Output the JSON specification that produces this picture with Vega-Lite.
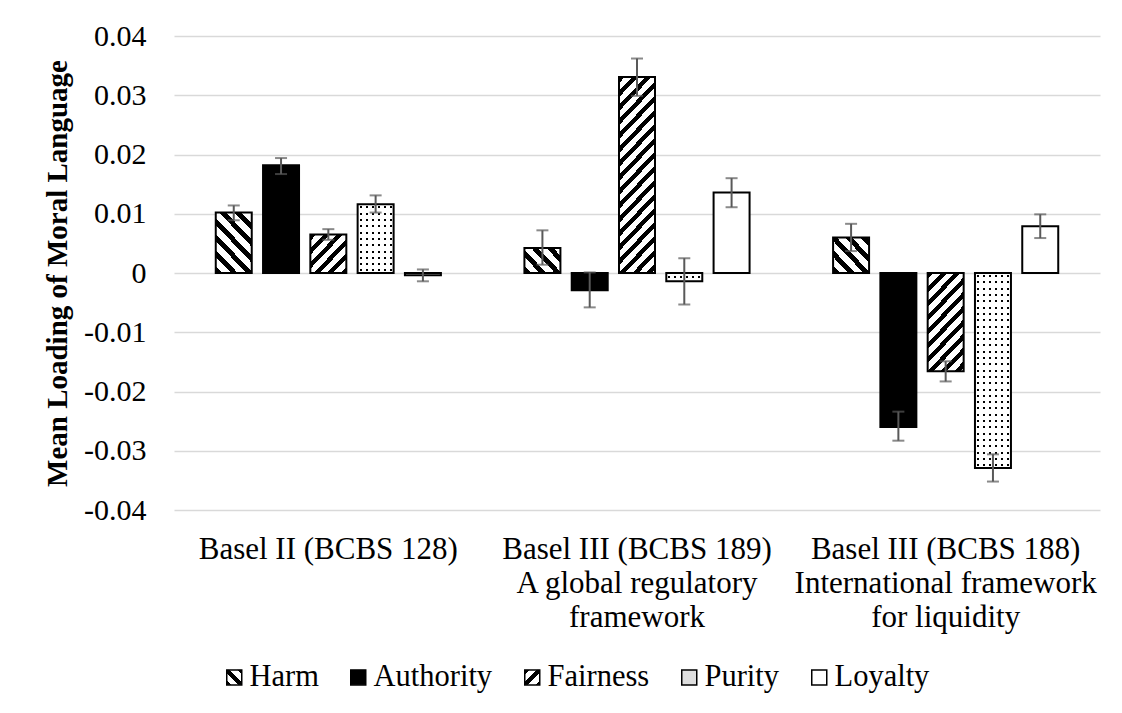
{
  "$schema": "https://vega.github.io/schema/vega-lite/v6.json",
  "width": 926,
  "height": 474,
  "autosize": {"type": "none"},
  "padding": {"left": 174, "top": 36, "right": 22, "bottom": 203},
  "background": "#ffffff",
  "config": {"view": {"stroke": null}, "font": "Liberation Serif"},
  "data": {"values": [
    {"group": "Basel II (BCBS 128)", "moral": "Harm", "value": 0.0102, "lo": 0.0089, "hi": 0.0114},
    {"group": "Basel II (BCBS 128)", "moral": "Authority", "value": 0.0182, "lo": 0.0167, "hi": 0.0194},
    {"group": "Basel II (BCBS 128)", "moral": "Fairness", "value": 0.0065, "lo": 0.0056, "hi": 0.0074},
    {"group": "Basel II (BCBS 128)", "moral": "Purity", "value": 0.0116, "lo": 0.0102, "hi": 0.0131},
    {"group": "Basel II (BCBS 128)", "moral": "Loyalty", "value": -0.0004, "lo": -0.0014, "hi": 0.0006},
    {"group": "Basel III (BCBS 189)|A global regulatory|framework", "moral": "Harm", "value": 0.0042, "lo": 0.0014, "hi": 0.0072},
    {"group": "Basel III (BCBS 189)|A global regulatory|framework", "moral": "Authority", "value": -0.0029, "lo": -0.0058, "hi": 0.0001},
    {"group": "Basel III (BCBS 189)|A global regulatory|framework", "moral": "Fairness", "value": 0.0331, "lo": 0.0299, "hi": 0.0362},
    {"group": "Basel III (BCBS 189)|A global regulatory|framework", "moral": "Purity", "value": -0.0014, "lo": -0.0053, "hi": 0.0025},
    {"group": "Basel III (BCBS 189)|A global regulatory|framework", "moral": "Loyalty", "value": 0.0136, "lo": 0.0111, "hi": 0.016},
    {"group": "Basel III (BCBS 188)|International framework|for liquidity", "moral": "Harm", "value": 0.006, "lo": 0.0037, "hi": 0.0083},
    {"group": "Basel III (BCBS 188)|International framework|for liquidity", "moral": "Authority", "value": -0.026, "lo": -0.0283, "hi": -0.0234},
    {"group": "Basel III (BCBS 188)|International framework|for liquidity", "moral": "Fairness", "value": -0.0166, "lo": -0.0183, "hi": -0.0149},
    {"group": "Basel III (BCBS 188)|International framework|for liquidity", "moral": "Purity", "value": -0.0329, "lo": -0.0352, "hi": -0.0306},
    {"group": "Basel III (BCBS 188)|International framework|for liquidity", "moral": "Loyalty", "value": 0.0079, "lo": 0.0059, "hi": 0.0099}
  ]},
  "encoding": {
    "x": {
      "field": "group", "type": "nominal",
      "scale": {"domain": ["Basel II (BCBS 128)", "Basel III (BCBS 189)|A global regulatory|framework", "Basel III (BCBS 188)|International framework|for liquidity"], "paddingInner": 0, "paddingOuter": 0},
      "axis": {"title": null, "labelExpr": "split(datum.label, '|')", "labelAngle": 0, "labelFontSize": 31, "labelFont": "Liberation Serif", "labelColor": "#000", "labelPadding": 24.5, "labelLineHeight": 34, "labelLimit": 0, "labelBaseline": "top", "ticks": false, "tickSize": 0, "domain": false, "grid": false, "labelOverlap": false}
    },
    "xOffset": {
      "field": "moral", "type": "nominal",
      "scale": {"domain": ["Harm", "Authority", "Fairness", "Purity", "Loyalty"], "paddingInner": 0.239, "paddingOuter": 0.883}
    }
  },
  "layer": [
    {
      "mark": {"type": "bar"},
      "encoding": {
        "y": {"field": "value", "type": "quantitative", "title": "Mean Loading of Moral Language", "scale": {"domain": [-0.04, 0.04], "nice": false, "zero": false},
          "axis": {"title": "Mean Loading of Moral Language", "values": [-0.04, -0.03, -0.02, -0.01, 0, 0.01, 0.02, 0.03, 0.04],
            "labelExpr": "datum.value < 0 ? '-' + format(-datum.value, '.2~f') : format(datum.value, '.2~f')",
            "labelFontSize": 30, "labelFont": "Liberation Serif", "labelColor": "#000", "labelPadding": 28,
            "ticks": false, "tickSize": 0, "domain": false, "grid": true, "gridColor": "#d9d9d9", "gridWidth": 1.5,
            "titleFont": "Liberation Serif", "titleFontSize": 29, "titleFontWeight": "bold", "titleColor": "#000",
            "titleX": -117, "titleY": 237, "titleAngle": -90, "titleAlign": "center", "titleBaseline": "middle", "labelOverlap": false}},
        "fill": {"field": "moral", "type": "nominal",
          "scale": {"domain": ["Harm", "Authority", "Fairness", "Purity", "Loyalty"],
            "range": [
              {"expr": "{gradient:'linear',x1:0,y1:1,x2:1,y2:0,stops:[{offset:0,color:'#000'},{offset:0.15,color:'#000'},{offset:0.15,color:'#fff'},{offset:0.4,color:'#fff'},{offset:0.4,color:'#000'},{offset:0.6,color:'#000'},{offset:0.6,color:'#fff'},{offset:0.85,color:'#fff'},{offset:0.85,color:'#000'},{offset:1,color:'#000'}]}"},
              "#000000",
              {"expr": "{gradient:'linear',x1:0,y1:0,x2:1,y2:1,stops:[{offset:0,color:'#000'},{offset:0.15,color:'#000'},{offset:0.15,color:'#fff'},{offset:0.4,color:'#fff'},{offset:0.4,color:'#000'},{offset:0.6,color:'#000'},{offset:0.6,color:'#fff'},{offset:0.85,color:'#fff'},{offset:0.85,color:'#000'},{offset:1,color:'#000'}]}"},
              "#dedede",
              "#ffffff"
            ]},
          "legend": {"orient": "none", "legendX": 45, "legendY": 626, "direction": "horizontal", "columns": 5, "title": null,
            "labelFont": "Liberation Serif", "labelFontSize": 30.5, "labelColor": "#000", "labelOffset": 0, "columnPadding": 24,
            "symbolType": "square", "symbolSize": 225, "symbolStrokeColor": "#000", "symbolStrokeWidth": 1.5, "symbolOpacity": 1,
            "padding": 0, "labelLimit": 0,
            "encode": {"symbols": {"update": {"stroke": {"value": "#000"}, "strokeWidth": {"value": 1.5}}}}}
        }
      }
    },
    {
      "mark": {"type": "bar"},
      "encoding": {
        "y": {"field": "value", "type": "quantitative", "title": "Mean Loading of Moral Language", "scale": {"domain": [-0.04, 0.04], "nice": false, "zero": false}},
        "fill": {
          "condition": [
            {"test": "datum.moral === 'Harm' && indexof(datum.group, '128') >= 0", "value": {"gradient": "linear", "x1": 0, "y1": 1, "x2": 0.731, "y2": -0.168, "stops": [
              {"offset": 0, "color": "#000"}, {"offset": 0.0733, "color": "#000"}, {"offset": 0.0733, "color": "#fff"}, {"offset": 0.1629, "color": "#fff"},
              {"offset": 0.1629, "color": "#000"}, {"offset": 0.2362, "color": "#000"}, {"offset": 0.2362, "color": "#fff"}, {"offset": 0.3258, "color": "#fff"},
              {"offset": 0.3258, "color": "#000"}, {"offset": 0.3991, "color": "#000"}, {"offset": 0.3991, "color": "#fff"}, {"offset": 0.4887, "color": "#fff"},
              {"offset": 0.4887, "color": "#000"}, {"offset": 0.562, "color": "#000"}, {"offset": 0.562, "color": "#fff"}, {"offset": 0.6516, "color": "#fff"},
              {"offset": 0.6516, "color": "#000"}, {"offset": 0.7249, "color": "#000"}, {"offset": 0.7249, "color": "#fff"}, {"offset": 0.8145, "color": "#fff"},
              {"offset": 0.8145, "color": "#000"}, {"offset": 0.8878, "color": "#000"}, {"offset": 0.8878, "color": "#fff"}, {"offset": 0.9774, "color": "#fff"},
              {"offset": 0.9774, "color": "#000"}, {"offset": 1, "color": "#000"}]}},
            {"test": "datum.moral === 'Harm' && indexof(datum.group, '189') >= 0", "value": {"gradient": "linear", "x1": 0, "y1": 1, "x2": 1.157, "y2": 0.238, "stops": [
              {"offset": 0, "color": "#000"}, {"offset": 0.1148, "color": "#000"}, {"offset": 0.1148, "color": "#fff"}, {"offset": 0.2552, "color": "#fff"},
              {"offset": 0.2552, "color": "#000"}, {"offset": 0.37, "color": "#000"}, {"offset": 0.37, "color": "#fff"}, {"offset": 0.5104, "color": "#fff"},
              {"offset": 0.5104, "color": "#000"}, {"offset": 0.6252, "color": "#000"}, {"offset": 0.6252, "color": "#fff"}, {"offset": 0.7656, "color": "#fff"},
              {"offset": 0.7656, "color": "#000"}, {"offset": 0.8804, "color": "#000"}, {"offset": 0.8804, "color": "#fff"}, {"offset": 1, "color": "#fff"}]}},
            {"test": "datum.moral === 'Harm'", "value": {"gradient": "linear", "x1": 0, "y1": 1, "x2": 1.03, "y2": 0.032, "stops": [
              {"offset": 0, "color": "#000"}, {"offset": 0.0982, "color": "#000"}, {"offset": 0.0982, "color": "#fff"}, {"offset": 0.2181, "color": "#fff"},
              {"offset": 0.2181, "color": "#000"}, {"offset": 0.3163, "color": "#000"}, {"offset": 0.3163, "color": "#fff"}, {"offset": 0.4362, "color": "#fff"},
              {"offset": 0.4362, "color": "#000"}, {"offset": 0.5344, "color": "#000"}, {"offset": 0.5344, "color": "#fff"}, {"offset": 0.6543, "color": "#fff"},
              {"offset": 0.6543, "color": "#000"}, {"offset": 0.7525, "color": "#000"}, {"offset": 0.7525, "color": "#fff"}, {"offset": 0.8724, "color": "#fff"},
              {"offset": 0.8724, "color": "#000"}, {"offset": 0.9706, "color": "#000"}, {"offset": 0.9706, "color": "#fff"}, {"offset": 1, "color": "#fff"}]}},
            {"test": "datum.moral === 'Fairness' && indexof(datum.group, '128') >= 0", "value": {"gradient": "linear", "x1": 0, "y1": 0, "x2": 0.991, "y2": 1.009, "stops": [
              {"offset": 0, "color": "#000"}, {"offset": 0.0826, "color": "#000"}, {"offset": 0.0826, "color": "#fff"}, {"offset": 0.1835, "color": "#fff"},
              {"offset": 0.1835, "color": "#000"}, {"offset": 0.2661, "color": "#000"}, {"offset": 0.2661, "color": "#fff"}, {"offset": 0.367, "color": "#fff"},
              {"offset": 0.367, "color": "#000"}, {"offset": 0.4496, "color": "#000"}, {"offset": 0.4496, "color": "#fff"}, {"offset": 0.5505, "color": "#fff"},
              {"offset": 0.5505, "color": "#000"}, {"offset": 0.6331, "color": "#000"}, {"offset": 0.6331, "color": "#fff"}, {"offset": 0.734, "color": "#fff"},
              {"offset": 0.734, "color": "#000"}, {"offset": 0.8166, "color": "#000"}, {"offset": 0.8166, "color": "#fff"}, {"offset": 0.9175, "color": "#fff"},
              {"offset": 0.9175, "color": "#000"}, {"offset": 1, "color": "#000"}]}},
            {"test": "datum.moral === 'Fairness' && indexof(datum.group, '189') >= 0", "value": {"gradient": "linear", "x1": 0, "y1": 0, "x2": 0.222, "y2": 1.15, "stops": [
              {"offset": 0, "color": "#000"}, {"offset": 0.0269, "color": "#000"}, {"offset": 0.0269, "color": "#fff"}, {"offset": 0.0599, "color": "#fff"},
              {"offset": 0.0599, "color": "#000"}, {"offset": 0.0868, "color": "#000"}, {"offset": 0.0868, "color": "#fff"}, {"offset": 0.1197, "color": "#fff"},
              {"offset": 0.1197, "color": "#000"}, {"offset": 0.1466, "color": "#000"}, {"offset": 0.1466, "color": "#fff"}, {"offset": 0.1796, "color": "#fff"},
              {"offset": 0.1796, "color": "#000"}, {"offset": 0.2065, "color": "#000"}, {"offset": 0.2065, "color": "#fff"}, {"offset": 0.2394, "color": "#fff"},
              {"offset": 0.2394, "color": "#000"}, {"offset": 0.2663, "color": "#000"}, {"offset": 0.2663, "color": "#fff"}, {"offset": 0.2993, "color": "#fff"},
              {"offset": 0.2993, "color": "#000"}, {"offset": 0.3262, "color": "#000"}, {"offset": 0.3262, "color": "#fff"}, {"offset": 0.3591, "color": "#fff"},
              {"offset": 0.3591, "color": "#000"}, {"offset": 0.386, "color": "#000"}, {"offset": 0.386, "color": "#fff"}, {"offset": 0.419, "color": "#fff"},
              {"offset": 0.419, "color": "#000"}, {"offset": 0.4459, "color": "#000"}, {"offset": 0.4459, "color": "#fff"}, {"offset": 0.4788, "color": "#fff"},
              {"offset": 0.4788, "color": "#000"}, {"offset": 0.5057, "color": "#000"}, {"offset": 0.5057, "color": "#fff"}, {"offset": 0.5387, "color": "#fff"},
              {"offset": 0.5387, "color": "#000"}, {"offset": 0.5656, "color": "#000"}, {"offset": 0.5656, "color": "#fff"}, {"offset": 0.5985, "color": "#fff"},
              {"offset": 0.5985, "color": "#000"}, {"offset": 0.6254, "color": "#000"}, {"offset": 0.6254, "color": "#fff"}, {"offset": 0.6584, "color": "#fff"},
              {"offset": 0.6584, "color": "#000"}, {"offset": 0.6853, "color": "#000"}, {"offset": 0.6853, "color": "#fff"}, {"offset": 0.7182, "color": "#fff"},
              {"offset": 0.7182, "color": "#000"}, {"offset": 0.7451, "color": "#000"}, {"offset": 0.7451, "color": "#fff"}, {"offset": 0.7781, "color": "#fff"},
              {"offset": 0.7781, "color": "#000"}, {"offset": 0.805, "color": "#000"}, {"offset": 0.805, "color": "#fff"}, {"offset": 0.8379, "color": "#fff"},
              {"offset": 0.8379, "color": "#000"}, {"offset": 0.8648, "color": "#000"}, {"offset": 0.8648, "color": "#fff"}, {"offset": 0.8978, "color": "#fff"},
              {"offset": 0.8978, "color": "#000"}, {"offset": 0.9247, "color": "#000"}, {"offset": 0.9247, "color": "#fff"}, {"offset": 0.9576, "color": "#fff"},
              {"offset": 0.9576, "color": "#000"}, {"offset": 0.9845, "color": "#000"}, {"offset": 0.9845, "color": "#fff"}, {"offset": 1, "color": "#fff"}]}},
            {"test": "datum.moral === 'Fairness'", "value": {"gradient": "linear", "x1": 0, "y1": 0, "x2": 0.463, "y2": 1.206, "stops": [
              {"offset": 0, "color": "#000"}, {"offset": 0.0463, "color": "#000"}, {"offset": 0.0463, "color": "#fff"}, {"offset": 0.1028, "color": "#fff"},
              {"offset": 0.1028, "color": "#000"}, {"offset": 0.1491, "color": "#000"}, {"offset": 0.1491, "color": "#fff"}, {"offset": 0.2056, "color": "#fff"},
              {"offset": 0.2056, "color": "#000"}, {"offset": 0.2519, "color": "#000"}, {"offset": 0.2519, "color": "#fff"}, {"offset": 0.3084, "color": "#fff"},
              {"offset": 0.3084, "color": "#000"}, {"offset": 0.3547, "color": "#000"}, {"offset": 0.3547, "color": "#fff"}, {"offset": 0.4112, "color": "#fff"},
              {"offset": 0.4112, "color": "#000"}, {"offset": 0.4575, "color": "#000"}, {"offset": 0.4575, "color": "#fff"}, {"offset": 0.514, "color": "#fff"},
              {"offset": 0.514, "color": "#000"}, {"offset": 0.5603, "color": "#000"}, {"offset": 0.5603, "color": "#fff"}, {"offset": 0.6168, "color": "#fff"},
              {"offset": 0.6168, "color": "#000"}, {"offset": 0.6631, "color": "#000"}, {"offset": 0.6631, "color": "#fff"}, {"offset": 0.7196, "color": "#fff"},
              {"offset": 0.7196, "color": "#000"}, {"offset": 0.7659, "color": "#000"}, {"offset": 0.7659, "color": "#fff"}, {"offset": 0.8224, "color": "#fff"},
              {"offset": 0.8224, "color": "#000"}, {"offset": 0.8687, "color": "#000"}, {"offset": 0.8687, "color": "#fff"}, {"offset": 0.9252, "color": "#fff"},
              {"offset": 0.9252, "color": "#000"}, {"offset": 0.9715, "color": "#000"}, {"offset": 0.9715, "color": "#fff"}, {"offset": 1, "color": "#fff"}]}},
            {"test": "datum.moral === 'Loyalty'", "value": "#ffffff"}
          ],
          "value": "#000000"
        }
      }
    },
    {
      "transform": [{"filter": "datum.moral === 'Purity'"}],
      "mark": {"type": "bar", "fill": {"gradient": "linear", "x1": 0, "y1": 0, "x2": 1, "y2": 0, "stops": [
        {"offset": 0, "color": "#fff"}, {"offset": 0.0568, "color": "#fff"}, {"offset": 0.0568, "color": "rgba(255,255,255,0)"}, {"offset": 0.1098, "color": "rgba(255,255,255,0)"},
        {"offset": 0.1098, "color": "#fff"}, {"offset": 0.2235, "color": "#fff"}, {"offset": 0.2235, "color": "rgba(255,255,255,0)"}, {"offset": 0.2765, "color": "rgba(255,255,255,0)"},
        {"offset": 0.2765, "color": "#fff"}, {"offset": 0.3902, "color": "#fff"}, {"offset": 0.3902, "color": "rgba(255,255,255,0)"}, {"offset": 0.4432, "color": "rgba(255,255,255,0)"},
        {"offset": 0.4432, "color": "#fff"}, {"offset": 0.5568, "color": "#fff"}, {"offset": 0.5568, "color": "rgba(255,255,255,0)"}, {"offset": 0.6098, "color": "rgba(255,255,255,0)"},
        {"offset": 0.6098, "color": "#fff"}, {"offset": 0.7235, "color": "#fff"}, {"offset": 0.7235, "color": "rgba(255,255,255,0)"}, {"offset": 0.7765, "color": "rgba(255,255,255,0)"},
        {"offset": 0.7765, "color": "#fff"}, {"offset": 0.8902, "color": "#fff"}, {"offset": 0.8902, "color": "rgba(255,255,255,0)"}, {"offset": 0.9432, "color": "rgba(255,255,255,0)"},
        {"offset": 0.9432, "color": "#fff"}, {"offset": 1, "color": "#fff"}]}},
      "encoding": {
        "y": {"field": "value", "type": "quantitative", "title": "Mean Loading of Moral Language", "scale": {"domain": [-0.04, 0.04], "nice": false, "zero": false}}
      }
    },
    {
      "transform": [{"filter": "datum.moral === 'Purity'"}],
      "mark": {"type": "bar"},
      "encoding": {
        "y": {"field": "value", "type": "quantitative", "title": "Mean Loading of Moral Language", "scale": {"domain": [-0.04, 0.04], "nice": false, "zero": false}},
        "fill": {
          "condition": [
            {"test": "indexof(datum.group, '128') >= 0", "value": {"gradient": "linear", "x1": 0, "y1": 0, "x2": 0, "y2": 1, "stops": [
              {"offset": 0, "color": "#fff"},
              {"offset": 0.0313, "color": "#fff"}, {"offset": 0.0313, "color": "rgba(255,255,255,0)"}, {"offset": 0.0604, "color": "rgba(255,255,255,0)"}, {"offset": 0.0604, "color": "#fff"},
              {"offset": 0.123, "color": "#fff"}, {"offset": 0.123, "color": "rgba(255,255,255,0)"}, {"offset": 0.1521, "color": "rgba(255,255,255,0)"}, {"offset": 0.1521, "color": "#fff"},
              {"offset": 0.2147, "color": "#fff"}, {"offset": 0.2147, "color": "rgba(255,255,255,0)"}, {"offset": 0.2438, "color": "rgba(255,255,255,0)"}, {"offset": 0.2438, "color": "#fff"},
              {"offset": 0.3064, "color": "#fff"}, {"offset": 0.3064, "color": "rgba(255,255,255,0)"}, {"offset": 0.3355, "color": "rgba(255,255,255,0)"}, {"offset": 0.3355, "color": "#fff"},
              {"offset": 0.3981, "color": "#fff"}, {"offset": 0.3981, "color": "rgba(255,255,255,0)"}, {"offset": 0.4272, "color": "rgba(255,255,255,0)"}, {"offset": 0.4272, "color": "#fff"},
              {"offset": 0.4898, "color": "#fff"}, {"offset": 0.4898, "color": "rgba(255,255,255,0)"}, {"offset": 0.5189, "color": "rgba(255,255,255,0)"}, {"offset": 0.5189, "color": "#fff"},
              {"offset": 0.5815, "color": "#fff"}, {"offset": 0.5815, "color": "rgba(255,255,255,0)"}, {"offset": 0.6106, "color": "rgba(255,255,255,0)"}, {"offset": 0.6106, "color": "#fff"},
              {"offset": 0.6732, "color": "#fff"}, {"offset": 0.6732, "color": "rgba(255,255,255,0)"}, {"offset": 0.7023, "color": "rgba(255,255,255,0)"}, {"offset": 0.7023, "color": "#fff"},
              {"offset": 0.7649, "color": "#fff"}, {"offset": 0.7649, "color": "rgba(255,255,255,0)"}, {"offset": 0.794, "color": "rgba(255,255,255,0)"}, {"offset": 0.794, "color": "#fff"},
              {"offset": 0.8566, "color": "#fff"}, {"offset": 0.8566, "color": "rgba(255,255,255,0)"}, {"offset": 0.8857, "color": "rgba(255,255,255,0)"}, {"offset": 0.8857, "color": "#fff"},
              {"offset": 0.9483, "color": "#fff"}, {"offset": 0.9483, "color": "rgba(255,255,255,0)"}, {"offset": 0.9774, "color": "rgba(255,255,255,0)"}, {"offset": 0.9774, "color": "#fff"},
              {"offset": 1, "color": "#fff"}]}},
            {"test": "indexof(datum.group, '189') >= 0", "value": {"gradient": "linear", "x1": 0, "y1": 0, "x2": 0, "y2": 1, "stops": [
              {"offset": 0, "color": "#fff"}, {"offset": 0.38, "color": "#fff"}, {"offset": 0.38, "color": "rgba(255,255,255,0)"}, {"offset": 0.62, "color": "rgba(255,255,255,0)"},
              {"offset": 0.62, "color": "#fff"}, {"offset": 1, "color": "#fff"}]}}
          ],
          "value": {"gradient": "linear", "x1": 0, "y1": 0, "x2": 0, "y2": 1, "stops": [
            {"offset": 0, "color": "#fff"},
            {"offset": 0.011, "color": "#fff"}, {"offset": 0.011, "color": "rgba(255,255,255,0)"}, {"offset": 0.0213, "color": "rgba(255,255,255,0)"}, {"offset": 0.0213, "color": "#fff"},
            {"offset": 0.0434, "color": "#fff"}, {"offset": 0.0434, "color": "rgba(255,255,255,0)"}, {"offset": 0.0536, "color": "rgba(255,255,255,0)"}, {"offset": 0.0536, "color": "#fff"},
            {"offset": 0.0757, "color": "#fff"}, {"offset": 0.0757, "color": "rgba(255,255,255,0)"}, {"offset": 0.0859, "color": "rgba(255,255,255,0)"}, {"offset": 0.0859, "color": "#fff"},
            {"offset": 0.108, "color": "#fff"}, {"offset": 0.108, "color": "rgba(255,255,255,0)"}, {"offset": 0.1183, "color": "rgba(255,255,255,0)"}, {"offset": 0.1183, "color": "#fff"},
            {"offset": 0.1403, "color": "#fff"}, {"offset": 0.1403, "color": "rgba(255,255,255,0)"}, {"offset": 0.1506, "color": "rgba(255,255,255,0)"}, {"offset": 0.1506, "color": "#fff"},
            {"offset": 0.1727, "color": "#fff"}, {"offset": 0.1727, "color": "rgba(255,255,255,0)"}, {"offset": 0.1829, "color": "rgba(255,255,255,0)"}, {"offset": 0.1829, "color": "#fff"},
            {"offset": 0.205, "color": "#fff"}, {"offset": 0.205, "color": "rgba(255,255,255,0)"}, {"offset": 0.2152, "color": "rgba(255,255,255,0)"}, {"offset": 0.2152, "color": "#fff"},
            {"offset": 0.2373, "color": "#fff"}, {"offset": 0.2373, "color": "rgba(255,255,255,0)"}, {"offset": 0.2476, "color": "rgba(255,255,255,0)"}, {"offset": 0.2476, "color": "#fff"},
            {"offset": 0.2696, "color": "#fff"}, {"offset": 0.2696, "color": "rgba(255,255,255,0)"}, {"offset": 0.2799, "color": "rgba(255,255,255,0)"}, {"offset": 0.2799, "color": "#fff"},
            {"offset": 0.3019, "color": "#fff"}, {"offset": 0.3019, "color": "rgba(255,255,255,0)"}, {"offset": 0.3122, "color": "rgba(255,255,255,0)"}, {"offset": 0.3122, "color": "#fff"},
            {"offset": 0.3343, "color": "#fff"}, {"offset": 0.3343, "color": "rgba(255,255,255,0)"}, {"offset": 0.3445, "color": "rgba(255,255,255,0)"}, {"offset": 0.3445, "color": "#fff"},
            {"offset": 0.3666, "color": "#fff"}, {"offset": 0.3666, "color": "rgba(255,255,255,0)"}, {"offset": 0.3769, "color": "rgba(255,255,255,0)"}, {"offset": 0.3769, "color": "#fff"},
            {"offset": 0.3989, "color": "#fff"}, {"offset": 0.3989, "color": "rgba(255,255,255,0)"}, {"offset": 0.4092, "color": "rgba(255,255,255,0)"}, {"offset": 0.4092, "color": "#fff"},
            {"offset": 0.4312, "color": "#fff"}, {"offset": 0.4312, "color": "rgba(255,255,255,0)"}, {"offset": 0.4415, "color": "rgba(255,255,255,0)"}, {"offset": 0.4415, "color": "#fff"},
            {"offset": 0.4636, "color": "#fff"}, {"offset": 0.4636, "color": "rgba(255,255,255,0)"}, {"offset": 0.4738, "color": "rgba(255,255,255,0)"}, {"offset": 0.4738, "color": "#fff"},
            {"offset": 0.4959, "color": "#fff"}, {"offset": 0.4959, "color": "rgba(255,255,255,0)"}, {"offset": 0.5061, "color": "rgba(255,255,255,0)"}, {"offset": 0.5061, "color": "#fff"},
            {"offset": 0.5282, "color": "#fff"}, {"offset": 0.5282, "color": "rgba(255,255,255,0)"}, {"offset": 0.5385, "color": "rgba(255,255,255,0)"}, {"offset": 0.5385, "color": "#fff"},
            {"offset": 0.5605, "color": "#fff"}, {"offset": 0.5605, "color": "rgba(255,255,255,0)"}, {"offset": 0.5708, "color": "rgba(255,255,255,0)"}, {"offset": 0.5708, "color": "#fff"},
            {"offset": 0.5929, "color": "#fff"}, {"offset": 0.5929, "color": "rgba(255,255,255,0)"}, {"offset": 0.6031, "color": "rgba(255,255,255,0)"}, {"offset": 0.6031, "color": "#fff"},
            {"offset": 0.6252, "color": "#fff"}, {"offset": 0.6252, "color": "rgba(255,255,255,0)"}, {"offset": 0.6354, "color": "rgba(255,255,255,0)"}, {"offset": 0.6354, "color": "#fff"},
            {"offset": 0.6575, "color": "#fff"}, {"offset": 0.6575, "color": "rgba(255,255,255,0)"}, {"offset": 0.6678, "color": "rgba(255,255,255,0)"}, {"offset": 0.6678, "color": "#fff"},
            {"offset": 0.6898, "color": "#fff"}, {"offset": 0.6898, "color": "rgba(255,255,255,0)"}, {"offset": 0.7001, "color": "rgba(255,255,255,0)"}, {"offset": 0.7001, "color": "#fff"},
            {"offset": 0.7221, "color": "#fff"}, {"offset": 0.7221, "color": "rgba(255,255,255,0)"}, {"offset": 0.7324, "color": "rgba(255,255,255,0)"}, {"offset": 0.7324, "color": "#fff"},
            {"offset": 0.7545, "color": "#fff"}, {"offset": 0.7545, "color": "rgba(255,255,255,0)"}, {"offset": 0.7647, "color": "rgba(255,255,255,0)"}, {"offset": 0.7647, "color": "#fff"},
            {"offset": 0.7868, "color": "#fff"}, {"offset": 0.7868, "color": "rgba(255,255,255,0)"}, {"offset": 0.7971, "color": "rgba(255,255,255,0)"}, {"offset": 0.7971, "color": "#fff"},
            {"offset": 0.8191, "color": "#fff"}, {"offset": 0.8191, "color": "rgba(255,255,255,0)"}, {"offset": 0.8294, "color": "rgba(255,255,255,0)"}, {"offset": 0.8294, "color": "#fff"},
            {"offset": 0.8514, "color": "#fff"}, {"offset": 0.8514, "color": "rgba(255,255,255,0)"}, {"offset": 0.8617, "color": "rgba(255,255,255,0)"}, {"offset": 0.8617, "color": "#fff"},
            {"offset": 0.8838, "color": "#fff"}, {"offset": 0.8838, "color": "rgba(255,255,255,0)"}, {"offset": 0.894, "color": "rgba(255,255,255,0)"}, {"offset": 0.894, "color": "#fff"},
            {"offset": 0.9161, "color": "#fff"}, {"offset": 0.9161, "color": "rgba(255,255,255,0)"}, {"offset": 0.9264, "color": "rgba(255,255,255,0)"}, {"offset": 0.9264, "color": "#fff"},
            {"offset": 0.9484, "color": "#fff"}, {"offset": 0.9484, "color": "rgba(255,255,255,0)"}, {"offset": 0.9587, "color": "rgba(255,255,255,0)"}, {"offset": 0.9587, "color": "#fff"},
            {"offset": 0.9807, "color": "#fff"}, {"offset": 0.9807, "color": "rgba(255,255,255,0)"}, {"offset": 0.991, "color": "rgba(255,255,255,0)"}, {"offset": 0.991, "color": "#fff"},
            {"offset": 1, "color": "#fff"}]}
        }
      }
    },
    {
      "mark": {"type": "bar", "filled": false, "stroke": "#000000", "strokeWidth": 2},
      "encoding": {
        "y": {"field": "value", "type": "quantitative", "title": "Mean Loading of Moral Language", "scale": {"domain": [-0.04, 0.04], "nice": false, "zero": false}}
      }
    },
    {
      "mark": {"type": "rule", "color": "#595959", "strokeWidth": 2},
      "encoding": {
        "y": {"field": "lo", "type": "quantitative", "title": "Mean Loading of Moral Language", "scale": {"domain": [-0.04, 0.04], "nice": false, "zero": false}},
        "y2": {"field": "hi"}
      }
    },
    {
      "mark": {"type": "tick", "color": "#595959", "thickness": 2, "size": 12},
      "encoding": {
        "y": {"field": "lo", "type": "quantitative", "title": "Mean Loading of Moral Language", "scale": {"domain": [-0.04, 0.04], "nice": false, "zero": false}}
      }
    },
    {
      "mark": {"type": "tick", "color": "#595959", "thickness": 2, "size": 12},
      "encoding": {
        "y": {"field": "hi", "type": "quantitative", "title": "Mean Loading of Moral Language", "scale": {"domain": [-0.04, 0.04], "nice": false, "zero": false}}
      }
    }
  ]
}
